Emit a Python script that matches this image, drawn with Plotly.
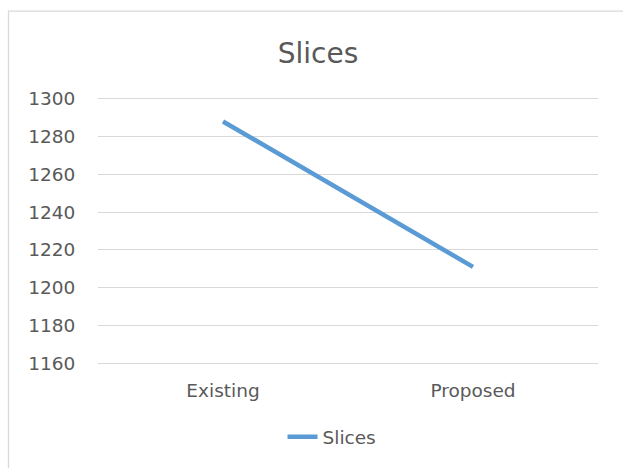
import plotly.graph_objects as go

categories = ["Existing", "Proposed"]
slices = [1288, 1211]
y_ticks = [1160, 1180, 1200, 1220, 1240, 1260, 1280, 1300]

FONT = "DejaVu Sans"
GRAY = "#595959"

# plot area: 1300 at y=99px, 1160 at y=363px; pad range so edge gridlines show
pad = 2.0
ppu = (363 - 99) / 140.0
pad_px = pad * ppu
top = 99 - pad_px
bottom = 468 - (363 + pad_px)
ph = 264 + 2 * pad_px

def py(px):
    return (363 + pad_px - px) / ph

fig = go.Figure()
fig.add_trace(go.Scatter(
    x=categories, y=slices, mode="lines", name="Slices",
    line=dict(color="#5B9BD5", width=4.5),
))

fig.update_layout(
    width=623, height=468,
    margin=dict(l=98, r=25, t=top, b=bottom, autoexpand=False),
    paper_bgcolor="white", plot_bgcolor="white",
    font=dict(family=FONT, color=GRAY, size=18.5),
    title=dict(text="Slices", x=318 / 623, xanchor="center", y=1 - 53 / 468, yanchor="middle",
               font=dict(size=28, color=GRAY, family=FONT)),
    showlegend=True,
    legend=dict(orientation="h", x=0.5 - 16 / 500, xanchor="center", y=py(437), yanchor="middle",
                font=dict(size=18.5, color=GRAY, family=FONT)),
    xaxis=dict(range=[-0.5, 1.5], showgrid=False, showline=False, zeroline=False,
               ticks="outside", ticklen=7, tickcolor="rgba(0,0,0,0)",
               tickfont=dict(size=18.5, color=GRAY)),
    yaxis=dict(range=[1160 - pad, 1300 + pad], tickvals=y_ticks, showgrid=True,
               gridcolor="#D9D9D9", gridwidth=1.3, zeroline=False, showline=False,
               ticks="outside", ticklen=18, tickcolor="rgba(0,0,0,0)",
               tickfont=dict(size=18.5, color=GRAY)),
    shapes=[dict(type="rect", xref="paper", yref="paper",
                 x0=(8.5 - 98) / 500, x1=1.2, y0=-0.6, y1=py(11.5),
                 line=dict(color="#D9D9D9", width=1.3), fillcolor="rgba(0,0,0,0)", layer="below")],
)

fig.write_html("out.html")
